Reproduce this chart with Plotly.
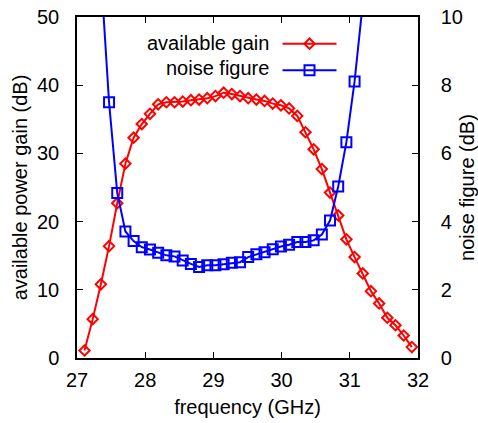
import plotly.graph_objects as go

freq = [27.11, 27.23, 27.35, 27.47, 27.59, 27.71, 27.83, 27.95, 28.07, 28.19,
        28.31, 28.43, 28.55, 28.67, 28.79, 28.91, 29.03, 29.15, 29.27, 29.39,
        29.51, 29.63, 29.75, 29.87, 29.99, 30.11, 30.23, 30.35, 30.47, 30.59,
        30.71, 30.83, 30.95, 31.07, 31.19, 31.31, 31.43, 31.55, 31.67, 31.79,
        31.91]

gain = [1.1, 5.7, 10.8, 16.4, 22.7, 28.5, 32.3, 34.3, 35.8, 37.2,
        37.5, 37.5, 37.6, 37.8, 37.9, 38.1, 38.4, 38.9, 38.7, 38.4,
        38.1, 37.9, 37.7, 37.3, 37.05, 36.6, 35.5, 33.1, 30.6, 27.7,
        24.25, 20.9, 17.4, 14.8, 12.4, 9.8, 8.0, 5.9, 4.8, 3.3,
        1.6]

noise = [None, None, 11.3, 7.5, 4.84, 3.71, 3.43, 3.25, 3.18, 3.09,
         3.01, 2.98, 2.86, 2.76, 2.67, 2.72, 2.72, 2.75, 2.79, 2.81,
         2.96, 3.04, 3.10, 3.19, 3.27, 3.32, 3.40, 3.40, 3.45, 3.62,
         4.03, 5.03, 6.33, 8.11, 10.4, None, None, None, None, None,
         None]

x_ticks = [27, 28, 29, 30, 31, 32]
gain_ticks = [0, 10, 20, 30, 40, 50]
nf_ticks = [0, 2, 4, 6, 8, 10]

label_gain = "available gain"
label_nf = "noise figure"

FONT = "Liberation Sans, Arial, Helvetica, sans-serif"
FS = 20

fig = go.Figure()
fig.add_trace(go.Scatter(
    x=freq, y=gain, name=" ", mode="lines+markers",
    line=dict(color="#ff0000", width=2),
    marker=dict(symbol="diamond-open", size=8, color="#ff0000", line=dict(width=2)),
    yaxis="y", cliponaxis=True,
))
fig.add_trace(go.Scatter(
    x=freq, y=noise, name="  ", mode="lines+markers",
    line=dict(color="#0000ff", width=2),
    marker=dict(symbol="square-open", size=10, color="#0000ff", line=dict(width=2)),
    yaxis="y2", cliponaxis=True,
))

axis_common = dict(
    showline=True, linecolor="black", linewidth=1.5,
    ticks="inside", ticklen=6, tickwidth=1, tickcolor="black",
    showgrid=False, zeroline=False, ticklabeloverflow="allow",
    tickfont=dict(family=FONT, size=FS, color="black"),
)

fig.update_layout(
    width=478, height=423,
    margin=dict(l=77, r=60, t=17, b=65, autoexpand=False),
    paper_bgcolor="white", plot_bgcolor="white",
    font=dict(family=FONT, size=FS, color="black"),
    xaxis=dict(range=[27, 32], tickvals=x_ticks, mirror="ticks",
               ticklabelstandoff=3,
               title=dict(text="frequency (GHz)", standoff=10,
                          font=dict(family=FONT, size=FS)),
               **axis_common),
    yaxis=dict(range=[0, 50], tickvals=gain_ticks, mirror=True,
               ticklabelstandoff=12, automargin=True,
               title=dict(text="available power gain (dB)", standoff=4,
                          font=dict(family=FONT, size=FS)),
               **axis_common),
    yaxis2=dict(range=[0, 10], tickvals=nf_ticks, overlaying="y", side="right",
                ticklabelstandoff=17,
                title=dict(text="noise figure (dB)", standoff=6,
                           font=dict(family=FONT, size=FS)),
                **axis_common),
    showlegend=True,
    legend=dict(x=0.588, y=0.975, xanchor="left", yanchor="top",
                bgcolor="rgba(0,0,0,0)", itemwidth=54,
                tracegroupgap=0, font=dict(family=FONT, size=18)),
)

fig.add_annotation(text=label_gain, xref="paper", yref="paper",
                   x=0.569, y=0.923, xanchor="right", yanchor="middle",
                   showarrow=False, font=dict(family=FONT, size=FS))
fig.add_annotation(text=label_nf, xref="paper", yref="paper",
                   x=0.569, y=0.851, xanchor="right", yanchor="middle",
                   showarrow=False, font=dict(family=FONT, size=FS))

fig.write_html("out.html",
               config={"displayModeBar": False},
               post_script="document.body.style.margin='0';")
